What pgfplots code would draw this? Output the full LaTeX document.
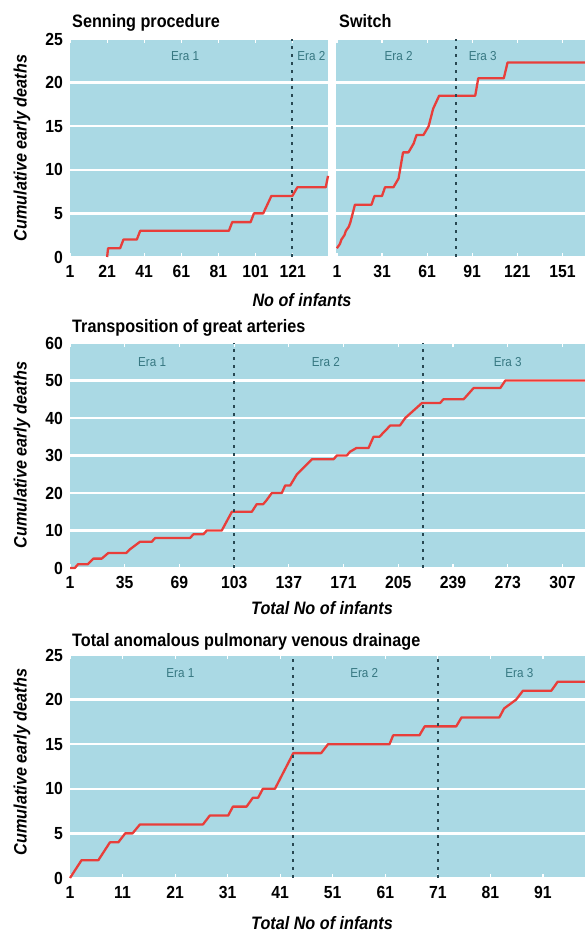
\documentclass[border=0pt]{standalone}
\usepackage{fontspec}
\setmainfont{Liberation Sans}[FakeStretch=0.9]
\usepackage{pgfplots}
\pgfplotsset{compat=1.18}
\definecolor{bgblue}{RGB}{170,217,228}
\definecolor{redline}{RGB}{232,62,58}
\definecolor{dashc}{RGB}{40,72,82}
\definecolor{eratxt}{RGB}{55,120,130}
\pgfplotsset{
  panel/.style={
    scale only axis, anchor=south west, clip=false,
    axis background/.style={fill=bgblue},
    axis line style={draw=none},
    ymajorgrids, grid style={white, line width=2.3pt},
    ytick style={draw=none},
    xtick style={draw=white, line width=1.2pt},
    major tick length=4pt,
    /pgf/number format/assume math mode=true,
    ticklabel style={font=\bfseries\fontsize{17.5}{19}\selectfont, inner sep=0pt},
    xticklabel style={anchor=north, yshift=-8pt},
    yticklabel style={anchor=east, xshift=-7pt},
    xmin=1, ymin=0,
  },
}
\tikzset{
  redl/.style={draw=redline, line width=2.3pt, line join=round},
  eral/.style={draw=dashc, line width=1.9pt, dash pattern=on 3pt off 5pt},
  eratext/.style={font=\fontsize{13}{15}\selectfont, text=eratxt},
}
\newcommand{\ttl}{\bfseries\fontsize{18}{20}\selectfont}
\newcommand{\lbl}{\bfseries\itshape\fontsize{18}{20}\selectfont}
\begin{document}
\begin{tikzpicture}
\path[use as bounding box] (0,0) rectangle (585pt,932pt);
% Senning
\begin{axis}[panel, at={(70pt,675pt)}, width=258pt, height=218pt,
  xmax=140, ymax=25, ytick={0,5,...,25}, xtick={1,21,...,121}]
\addplot[redl, no marks] coordinates {(21,0)(21.5,1)(28,1)(29.8,2)(37,2)(38.8,3)(86.6,3)(88.4,4)(98.3,4)(100.1,5)(105.1,5)(109.5,7)(120.8,7)(123.5,8)(138.8,8)(140,9.3)};
\addplot[eral, no marks] coordinates {(120.5,0)(120.5,25)};
\node[eratext] at (axis cs:63,23) {Era 1};
\node[eratext] at (axis cs:131,23) {Era 2};
\end{axis}
% Switch
\begin{axis}[panel, at={(336pt,675pt)}, width=249pt, height=218pt,
  xmin=0.4, xmax=166, ymax=25, ytick={0,5,...,25}, yticklabels={}, xtick={1,31,...,151}]
\addplot[redl, no marks] coordinates {(1,1)(3,1.5)(4,2)(6,2.5)(7,3)(9,3.5)(10,4)(11.5,5)(13,6)(24,6)(26,7)(31,7)(33,8)(38.6,8)(42,9)(45,12)(48.6,12)(52,13)(54,14)(58.6,14)(62,15)(65,17)(69,18.5)(93,18.5)(95,20.5)(112,20.5)(114.5,22.3)(166,22.3)};
\addplot[eral, no marks] coordinates {(80,0)(80,25)};
\node[eratext] at (axis cs:42,23) {Era 2};
\node[eratext] at (axis cs:98,23) {Era 3};
\end{axis}
% TGA
\begin{axis}[panel, at={(70pt,364pt)}, width=515pt, height=225pt,
  xmax=321, ymax=60, ytick={0,10,...,60}, xtick={1,35,...,307}]
\addplot[redl, no marks] coordinates {(1,0)(4,0)(6,1)(12,1)(15.5,2.5)(20.7,2.5)(24.8,4)(36,4)(38.3,5)(44.5,7)(51.8,7)(53.9,8)(75.6,8)(77.7,9)(83.9,9)(86,10)(95.3,10)(101.6,15)(114,15)(117,17)(121,17)(123,18)(126.4,20)(132.6,20)(134.7,22)(137.8,22)(142,25)(151.3,29)(164.8,29)(166.8,30)(173,30)(175,31)(179,32)(186.5,32)(189.6,35)(193.3,35)(200,38)(206,38)(209.3,40)(214.5,42)(219.7,44)(231,44)(233,45)(245.6,45)(251.8,48)(268.4,48)(271.5,50)(321,50)};
\addplot[eral, no marks] coordinates {(103,0)(103,60)};
\addplot[eral, no marks] coordinates {(220.5,0)(220.5,60)};
\node[eratext] at (axis cs:52,55) {Era 1};
\node[eratext] at (axis cs:160,55) {Era 2};
\node[eratext] at (axis cs:273,55) {Era 3};
\end{axis}
% TAPVD
\begin{axis}[panel, at={(70pt,54pt)}, width=515pt, height=223pt,
  xmax=99, ymax=25, ytick={0,5,...,25}, xtick={1,11,...,91}]
\addplot[redl, no marks] coordinates {(1,0)(3.2,2)(6.4,2)(8.6,4)(10.2,4)(11.5,5)(12.9,5)(14.3,6)(26.3,6)(27.6,7)(31.1,7)(32,8)(34.6,8)(35.8,9)(36.8,9)(37.7,10)(40,10)(43.5,14)(48.8,14)(50.1,15)(61.8,15)(62.5,16)(67.5,16)(68.5,17)(74.5,17)(75.5,18)(82.7,18)(83.6,19)(85.9,20)(87.2,21)(92.6,21)(93.8,22)(99,22)};
\addplot[eral, no marks] coordinates {(43.5,0)(43.5,25)};
\addplot[eral, no marks] coordinates {(71,0)(71,25)};
\node[eratext] at (axis cs:22,23) {Era 1};
\node[eratext] at (axis cs:57,23) {Era 2};
\node[eratext] at (axis cs:86.5,23) {Era 3};
\end{axis}
% titles
\node[anchor=base west, inner sep=0pt] at (72pt,904pt) {\ttl Senning procedure};
\node[anchor=base west, inner sep=0pt] at (339pt,904pt) {\ttl Switch};
\node[anchor=base west, inner sep=0pt] at (72pt,599pt) {\ttl Transposition of great arteries};
\node[anchor=base west, inner sep=0pt] at (72pt,285pt) {\ttl Total anomalous pulmonary venous drainage};
% y labels
\node[rotate=90, inner sep=0pt] at (22pt,784pt) {\lbl Cumulative early deaths};
\node[rotate=90, inner sep=0pt] at (22pt,477pt) {\lbl Cumulative early deaths};
\node[rotate=90, inner sep=0pt] at (22pt,170pt) {\lbl Cumulative early deaths};
% x labels
\node[anchor=base, inner sep=0pt] at (302pt,625pt) {\lbl No of infants};
\node[anchor=base, inner sep=0pt] at (322pt,317pt) {\lbl Total No of infants};
\node[anchor=base, inner sep=0pt] at (322pt,2.5pt) {\lbl Total No of infants};
\end{tikzpicture}
\end{document}
